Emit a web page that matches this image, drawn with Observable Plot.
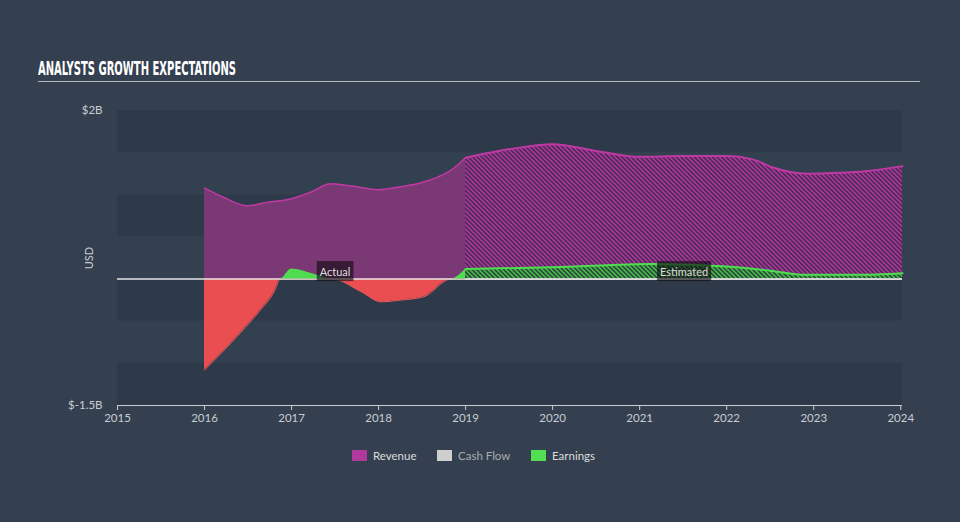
<!DOCTYPE html>
<html>
<head>
<meta charset="utf-8">
<script src="https://cdn.jsdelivr.net/npm/d3@7"></script>
<script src="https://cdn.jsdelivr.net/npm/@observablehq/plot@0.6"></script>
<style>
  html, body { margin: 0; padding: 0; background: #344050; width: 960px; height: 522px; overflow: hidden; }
  #wrap { position: relative; width: 960px; height: 522px; font-family: Lato, "Open Sans", sans-serif; }
  #title { position: absolute; left: 38px; top: 57px; line-height: 22px; white-space: nowrap;
           font-family: "DejaVu Sans Condensed", "Liberation Sans Narrow", sans-serif; font-weight: bold;
           font-size: 19px; color: #ffffff; transform-origin: 0 50%; }
  #rule { position: absolute; left: 38px; top: 81px; width: 882px; height: 1px; background: #b4b9c0; }
  #chart { position: absolute; left: 0; top: 0; }
  #usd { position: absolute; left: 88px; top: 258px; transform: translate(-50%, -50%) rotate(-90deg);
         font-size: 11px; color: #c9cdd2; }
  .lg { position: absolute; top: 450px; height: 12px; font-size: 11.5px; line-height: 12px; color: #dcdcdc; }
  .sw { position: absolute; top: 450px; width: 15px; height: 11px; }
</style>
</head>
<body>
<svg width="0" height="0" style="position:absolute">
  <defs>
    <pattern id="hatchRev" width="3.2" height="3.2" patternUnits="userSpaceOnUse" patternTransform="rotate(-45)">
      <rect width="3.2" height="3.2" fill="#4e2a55"></rect>
      <line x1="0.8" y1="0" x2="0.8" y2="3.2" stroke="#a9379b" stroke-width="1.6"></line>
    </pattern>
    <pattern id="hatchEarn" width="3.2" height="3.2" patternUnits="userSpaceOnUse" patternTransform="rotate(-45)">
      <rect width="3.2" height="3.2" fill="#2c4a3e"></rect>
      <line x1="0.8" y1="0" x2="0.8" y2="3.2" stroke="#46b848" stroke-width="1.6"></line>
    </pattern>
  </defs>
</svg>
<div id="wrap">
  <div id="title"><span id="titleText">ANALYSTS GROWTH EXPECTATIONS</span></div>
  <div id="rule"></div>
  <div id="chart"></div>
  <div id="usd">USD</div>
  <div class="sw" style="left:352px;background:#b0399d"></div>
  <div class="lg" style="left:373px">Revenue</div>
  <div class="sw" style="left:437px;background:#cfcfcf"></div>
  <div class="lg" style="left:458px;color:#a9acb0">Cash Flow</div>
  <div class="sw" style="left:531px;background:#52e052"></div>
  <div class="lg" style="left:552px">Earnings</div>
</div>
<script>
// ---- data (values in billions USD) ----
const xTicks = [2015, 2016, 2017, 2018, 2019, 2020, 2021, 2022, 2023, 2024];
const xDomain = [2015, 2024.02];
const yTicks = [2, -1.5];
const yDomain = [-1.5, 2];
const bandsDark = [[1.5, 2], [0.5, 1], [-0.5, 0], [-1.5, -1]];
const bandsLight = [[1, 1.5], [0, 0.5], [-1, -0.5]];

const revActualYears = [2016, 2016.22, 2016.49, 2016.72, 2016.99, 2017.22, 2017.45, 2017.71, 2017.99, 2018.22, 2018.48, 2018.68, 2018.83, 2019];
const revActualVals  = [1.08, 0.97, 0.87, 0.91, 0.95, 1.03, 1.13, 1.10, 1.06, 1.09, 1.14, 1.21, 1.29, 1.44];
const revEstYears = [2019, 2019.5, 2020, 2020.5, 2021, 2021.5, 2022, 2022.3, 2022.54, 2022.93, 2023.3, 2023.6, 2024.02];
const revEstVals  = [1.44, 1.54, 1.60, 1.52, 1.45, 1.46, 1.46, 1.42, 1.32, 1.25, 1.26, 1.28, 1.34];

const earnActualYears = [2016, 2016.41, 2016.64, 2016.8, 2016.87, 2017.0, 2017.25, 2017.47, 2017.8, 2018.03, 2018.25, 2018.52, 2018.83, 2019];
const earnActualVals  = [-1.08, -0.64, -0.37, -0.15, 0, 0.12, 0.06, 0, -0.15, -0.27, -0.25, -0.21, 0, 0.12];
const earnEstYears = [2019, 2020, 2021.16, 2022, 2022.5, 2022.9, 2023.5, 2024.02];
const earnEstVals  = [0.12, 0.14, 0.18, 0.15, 0.10, 0.05, 0.05, 0.07];

const periodLabels = ["Actual", "Estimated"];

// ---- tables ----
const zip = (xs, vs) => xs.map((year, i) => ({year, v: vs[i]}));
const revActual = zip(revActualYears, revActualVals);
const revEst = zip(revEstYears, revEstVals);
const earnActual = zip(earnActualYears, earnActualVals);
const earnEst = zip(earnEstYears, earnEstVals);
const labels = [
  {label: periodLabels[0], x: (revActualYears[0] + revActualYears[revActualYears.length - 1]) / 2},
  {label: periodLabels[1], x: (revEstYears[0] + revEstYears[revEstYears.length - 1]) / 2}
];

const curve = "monotone-x";
const purpleFill = "#7a3874", magenta = "#bf39a2", green = "#50dc50", red = "#ea4e50";

const chart = Plot.plot({
  width: 960,
  height: 440,
  marginLeft: 117,
  marginRight: 58,
  marginTop: 110,
  marginBottom: 35,
  x: {domain: xDomain},
  y: {domain: yDomain},
  style: {background: "transparent", fontFamily: "Lato, 'Open Sans', sans-serif", fontSize: "11px", color: "#c9cdd2"},
  marks: [
    Plot.rect(bandsDark, {y1: d => d[0], y2: d => d[1], fill: "#2e3a49"}),
    Plot.rect(bandsLight, {y1: d => d[0], y2: d => d[1], fill: "#334050"}),
    Plot.axisY(yTicks, {tickSize: 0, tickPadding: 15, tickFormat: d => "$" + d + "B", label: null, fill: "#c9cdd2", fontSize: 11.5}),
    Plot.axisX(xTicks, {tickSize: 5, tickPadding: 3, tickFormat: d => String(d), label: null, stroke: "#c9cdd2", fill: "#c9cdd2", fontSize: 11.5}),
    Plot.ruleY([yDomain[0]], {stroke: "#c9cdd2", strokeWidth: 1}),
    // revenue
    Plot.areaY(revActual, {x: "year", y: "v", fill: purpleFill, curve}),
    Plot.areaY(revEst, {x: "year", y: "v", fill: "url(#hatchRev)", curve}),
    Plot.lineY(revActual, {x: "year", y: "v", stroke: magenta, strokeWidth: 1.5, curve}),
    Plot.lineY(revEst, {x: "year", y: "v", stroke: magenta, strokeWidth: 2, curve}),
    // earnings
    Plot.areaY(earnActual, {x: "year", y: d => Math.min(d.v, 0), fill: red, curve}),
    Plot.lineY(earnActual, {x: "year", y: d => Math.min(d.v, 0), stroke: "#f25a5c", strokeWidth: 1, curve}),
    Plot.ruleY([0], {stroke: "#e4e4e4", strokeWidth: 1.5}),
    Plot.areaY(earnActual, {x: "year", y: d => Math.max(d.v, 0), fill: green, curve}),
    Plot.areaY(earnEst, {x: "year", y: "v", fill: "url(#hatchEarn)", curve}),
    Plot.lineY(earnEst, {x: "year", y: "v", stroke: green, strokeWidth: 2, curve}),
    Plot.ruleY([0], {x1: earnEstYears[0], x2: earnEstYears[earnEstYears.length - 1], stroke: "#e4e4e4", strokeWidth: 1.5}),
    // period labels
    Plot.text(labels, {x: "x", y: 0, text: "label", dy: -7, fill: "#dedede", fontSize: 11})
  ]
});
document.getElementById("chart").appendChild(chart);

// boxes behind period labels
const ns = "http://www.w3.org/2000/svg";
chart.querySelectorAll("text").forEach(t => {
  if (periodLabels.includes(t.textContent)) {
    const b = t.getBBox();
    const r = document.createElementNS(ns, "rect");
    r.setAttribute("x", b.x - 3);
    r.setAttribute("y", b.y + b.height / 2 - 10);
    r.setAttribute("width", b.width + 6);
    r.setAttribute("height", 20);
    r.setAttribute("fill", "rgba(15,10,18,0.62)");
    const tr = t.getAttribute("transform");
    if (tr) r.setAttribute("transform", tr);
    t.parentNode.insertBefore(r, t);
  }
});

// condense title to its reference width
const tt = document.getElementById("titleText");
const w = tt.getBoundingClientRect().width;
document.getElementById("title").style.transform = "scaleX(" + (198 / w) + ")";
</script>
</body>
</html>
